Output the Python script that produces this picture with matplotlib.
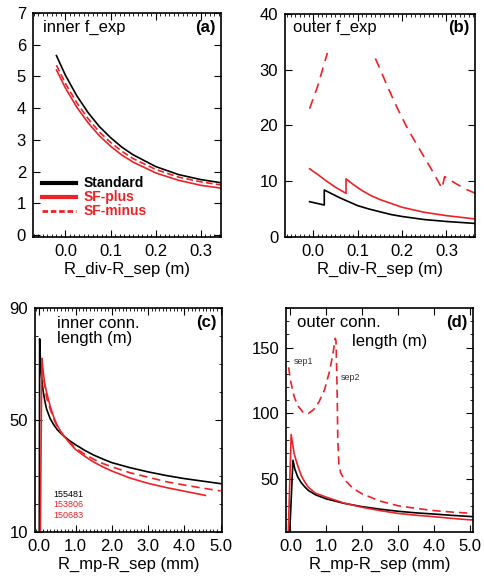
#Connection length and flux expansion plots, 4 panels
import matplotlib.pyplot as plt
import matplotlib.ticker as tk
import numpy as np

plt.rcParams['font.family'] = ['Liberation Sans', 'DejaVu Sans']
plt.rcParams['font.size'] = 12

RED = '#ec2227'

#panel (a) inner f_exp
xa = [-0.02, 0.0, 0.025, 0.05, 0.075, 0.1, 0.125, 0.15, 0.2, 0.25, 0.3, 0.345]
a_std = [5.65, 5.03, 4.39, 3.86, 3.42, 3.07, 2.77, 2.53, 2.16, 1.91, 1.75, 1.65]
a_plus = [5.2, 4.63, 4.03, 3.54, 3.13, 2.80, 2.52, 2.30, 1.96, 1.73, 1.57, 1.48]
a_minus = [5.35, 4.77, 4.17, 3.67, 3.25, 2.92, 2.64, 2.41, 2.07, 1.83, 1.68, 1.58]

#panel (b) outer f_exp
xb_std = [-0.008, 0.025, 0.025, 0.04, 0.06, 0.08, 0.1, 0.125, 0.15, 0.175, 0.2, 0.25, 0.3, 0.365]
b_std = [6.3, 5.7, 8.4, 7.8, 7.0, 6.3, 5.6, 5.0, 4.5, 4.0, 3.65, 3.1, 2.75, 2.4]
xb_plus = [-0.008, 0.01, 0.03, 0.05, 0.074, 0.074, 0.09, 0.11, 0.13, 0.15, 0.175, 0.2, 0.25, 0.3, 0.365]
b_plus = [12.2, 11.2, 10.0, 8.9, 7.8, 10.4, 9.4, 8.3, 7.4, 6.7, 6.0, 5.3, 4.4, 3.8, 3.2]
xb_minus = [-0.008, 0.01, 0.032, 0.08, 0.14, 0.15, 0.17, 0.19, 0.21, 0.23, 0.25, 0.27, 0.29, 0.296, 0.32, 0.345, 0.365]
b_minus = [23.0, 27.0, 33.0, np.nan, 32.0, 30.2, 26.5, 23.0, 19.8, 17.0, 14.3, 11.6, 8.7, 10.8, 9.6, 8.5, 7.8]

#panel (c) inner connection length
xc_std = [0.0, 0.01, 0.03, 0.06, 0.1, 0.15, 0.2, 0.3, 0.4, 0.5, 0.6, 0.7, 0.85, 1.0, 1.25, 1.5, 1.75,
          2.0, 2.5, 3.0, 3.5, 4.0, 4.5, 5.0]
c_std = [10, 79, 72, 66, 61, 57, 54, 50.5, 48.3, 46.5, 45.2, 44, 42.5, 41.2, 39.2, 37.5, 36.1,
         34.8, 33, 31.5, 30.2, 29.1, 28.2, 27.3]
xc_plus = [0.03, 0.07, 0.1, 0.15, 0.2, 0.3, 0.4, 0.5, 0.6, 0.7, 0.85, 1.0, 1.25, 1.5, 1.75,
           2.0, 2.5, 3.0, 3.5, 4.0, 4.58]
c_plus = [10, 72, 68, 63, 60, 55, 51, 48, 45.8, 44, 41.6, 39.5, 37.1, 35, 33.3,
          31.8, 29.3, 27.4, 25.9, 24.6, 23.1]
xc_minus = [0.08, 0.12, 0.2, 0.3, 0.4, 0.5, 0.6, 0.7, 0.85, 1.0, 1.25, 1.5, 1.75,
            2.0, 2.5, 3.0, 3.5, 4.0, 4.5, 5.0]
c_minus = [69, 65, 58, 54, 50.3, 47.5, 45.5, 44, 41.9, 40, 37.8, 36, 34.5,
           33.3, 31.2, 29.6, 28, 26.8, 25.7, 24.7]

#panel (d) outer connection length
xd_std = [-0.02, 0.07, 0.12, 0.2, 0.3, 0.4, 0.5, 0.7, 1.0, 1.5, 2.0, 2.5, 3.0, 3.5, 4.0, 4.5, 5.1]
d_std = [10, 64.5, 58, 52, 47.5, 44.3, 41.6, 38.3, 35.2, 31.8, 29.3, 27.4, 25.8, 24.6, 23.7, 22.7, 21.7]
xd_plus = [-0.06, 0.02, 0.06, 0.1, 0.15, 0.2, 0.3, 0.4, 0.5, 0.7, 1.0, 1.5, 2.0, 2.5, 3.0, 3.5, 4.0, 4.5, 5.1]
d_plus = [10, 84, 77, 70, 65, 60.7, 53, 48, 44, 39.5, 36.5, 32, 28.8, 26.3, 24.2, 22.8, 21.7, 20.4, 19.1]
xd_minus = [-0.05, 0.0, 0.1, 0.2, 0.35, 0.5, 0.65, 0.8, 0.95, 1.1, 1.2, 1.25, 1.27, 1.3, 1.32, 1.35, 1.4,
            1.5, 1.75, 2.0, 2.5, 3.0, 3.5, 4.0, 4.5, 5.1]
d_minus = [135, 125, 113, 106, 101, 100, 103, 109, 118, 133, 148, 157, 155, 120, 80, 62, 55,
           50, 43, 39, 33.5, 30, 28, 26.3, 25.2, 24.2]

fig = plt.figure(figsize=(4.85, 5.79), dpi=100)
axa = fig.add_axes([0.068, 0.591, 0.388, 0.387])
axb = fig.add_axes([0.588, 0.591, 0.392, 0.385])
axc = fig.add_axes([0.072, 0.081, 0.386, 0.387])
axd = fig.add_axes([0.590, 0.081, 0.386, 0.387])

for ax in [axa, axb, axc, axd]:
    ax.tick_params(which='both', direction='in', top=True, right=True, pad=5)
    ax.tick_params(which='major', length=5)
    ax.tick_params(which='minor', length=2.5)
    for s in ax.spines.values():
        s.set_linewidth(1.2)

#(a)
axa.plot(xa, a_std, color='k', lw=1.2)
axa.plot(xa, a_plus, color=RED, lw=1.2)
axa.plot(xa, a_minus, color=RED, lw=1.2, ls=(0, (4, 2)))
axa.set_xlim(-0.072, 0.345)
axa.set_ylim(-0.05, 7)
axa.set_xticks([0.0, 0.1, 0.2, 0.3])
axa.set_xticklabels(['0.0', '0.1', '0.2', '0.3'])
axa.xaxis.set_minor_locator(tk.MultipleLocator(0.01))
axa.set_yticks(range(0, 8))
axa.set_xlabel('R_div-R_sep (m)', labelpad=2)
axa.text(0.053, 0.935, 'inner f_exp', transform=axa.transAxes, va='center')
axa.text(0.97, 0.935, '(a)', transform=axa.transAxes, va='center', ha='right', fontweight='bold')
#legend drawn by hand
for i, (lab, c, ls, lw) in enumerate([('Standard', 'k', '-', 3), ('SF-plus', RED, '-', 3), ('SF-minus', RED, (0, (2, 1)), 2)]):
    yy = 0.24 - i * 0.063
    axa.plot([0.05, 0.23], [yy, yy], transform=axa.transAxes, color=c, ls=ls, lw=lw)
    axa.text(0.27, yy, lab, transform=axa.transAxes, color=c, fontweight='bold', fontsize=10, va='center')

#(b)
axb.plot(xb_std, b_std, color='k', lw=1.2)
axb.plot(xb_plus, b_plus, color=RED, lw=1.2)
axb.plot(xb_minus, b_minus, color=RED, lw=1.2, ls=(0, (6, 4)))
axb.set_xlim(-0.063, 0.365)
axb.set_ylim(0, 40)
axb.set_xticks([0.0, 0.1, 0.2, 0.3])
axb.set_xticklabels(['0.0', '0.1', '0.2', '0.3'])
axb.xaxis.set_minor_locator(tk.MultipleLocator(0.01))
axb.set_yticks([0, 10, 20, 30, 40])
axb.set_xlabel('R_div-R_sep (m)', labelpad=2)
axb.text(0.042, 0.94, 'outer f_exp', transform=axb.transAxes, va='center')
axb.text(0.97, 0.94, '(b)', transform=axb.transAxes, va='center', ha='right', fontweight='bold')

#(c)
axc.plot(xc_std, c_std, color='k', lw=1.2)
axc.plot(xc_plus, c_plus, color=RED, lw=1.2)
axc.plot(xc_minus, c_minus, color=RED, lw=1.2, ls=(0, (5, 3)))
axc.set_xlim(-0.12, 5.04)
axc.set_ylim(10, 90)
axc.set_xticks([0, 1, 2, 3, 4, 5])
axc.set_xticklabels(['0.0', '1.0', '2.0', '3.0', '4.0', '5.0'])
axc.xaxis.set_minor_locator(tk.MultipleLocator(0.1))
axc.set_yticks([10, 50, 90])
axc.yaxis.set_minor_locator(tk.MultipleLocator(10))
axc.set_xlabel('R_mp-R_sep (mm)', labelpad=2)
axc.text(0.12, 0.965, 'inner conn.\nlength (m)', transform=axc.transAxes, va='top', linespacing=1.0)
axc.text(0.97, 0.935, '(c)', transform=axc.transAxes, va='center', ha='right', fontweight='bold')
axc.text(0.096, 0.17, '155481', transform=axc.transAxes, va='center', fontsize=6.5, color='k')
axc.text(0.096, 0.122, '153806', transform=axc.transAxes, va='center', fontsize=6.5, color=RED)
axc.text(0.096, 0.076, '150683', transform=axc.transAxes, va='center', fontsize=6.5, color=RED)

#(d)
axd.plot(xd_std, d_std, color='k', lw=1.2)
axd.plot(xd_plus, d_plus, color=RED, lw=1.2)
axd.plot(xd_minus, d_minus, color=RED, lw=1.2, ls=(0, (5, 3)))
axd.set_xlim(-0.12, 5.1)
axd.set_ylim(10, 180)
axd.set_xticks([0, 1, 2, 3, 4, 5])
axd.set_xticklabels(['0.0', '1.0', '2.0', '3.0', '4.0', '5.0'])
axd.set_yticks([50, 100, 150])
axd.yaxis.set_minor_locator(tk.MultipleLocator(10))
axd.set_xlabel('R_mp-R_sep (mm)', labelpad=2)
axd.text(0.06, 0.935, 'outer conn.', transform=axd.transAxes, va='center')
axd.text(0.35, 0.85, 'length (m)', transform=axd.transAxes, va='center')
axd.text(0.97, 0.935, '(d)', transform=axd.transAxes, va='center', ha='right', fontweight='bold')
axd.text(0.04, 0.763, 'sep1', transform=axd.transAxes, va='center', fontsize=6.5, color='#333333')
axd.text(0.29, 0.69, 'sep2', transform=axd.transAxes, va='center', fontsize=6.5, color='#333333')

fig.savefig('out.png', dpi=100)
